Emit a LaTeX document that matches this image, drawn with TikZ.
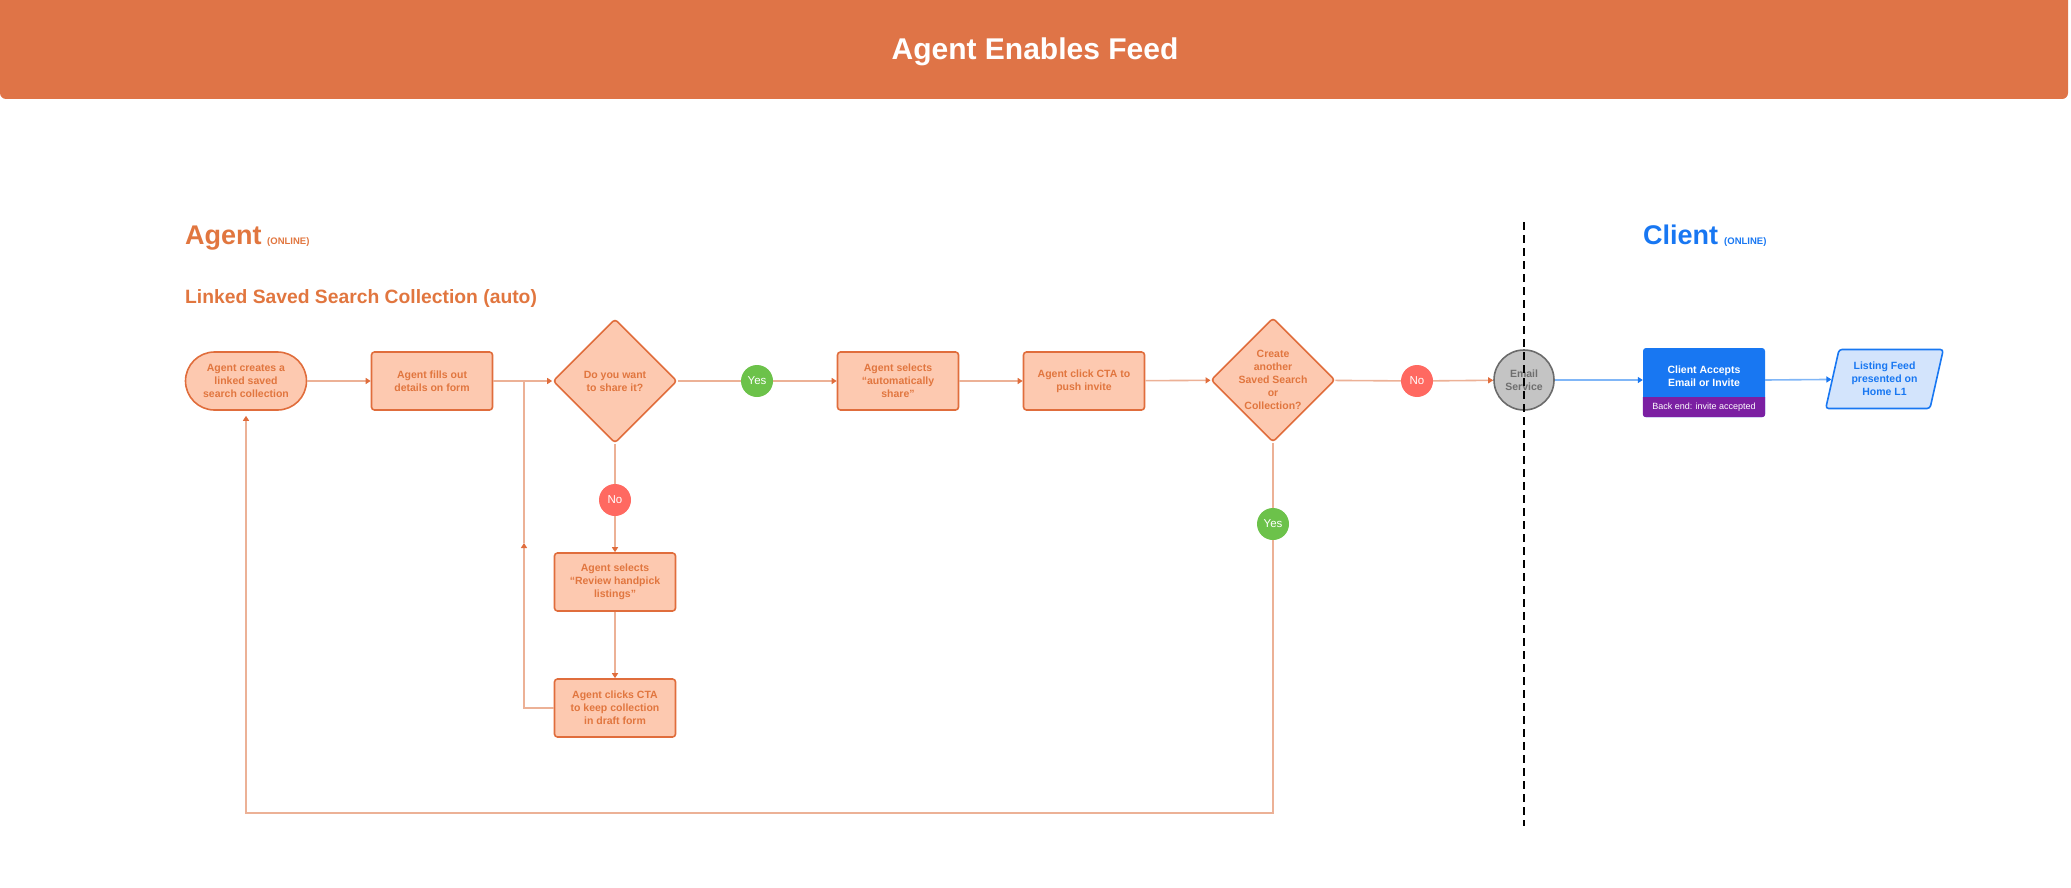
\documentclass[tikz,border=0pt]{standalone}
\usepackage{fontspec}
\setmainfont{Liberation Sans}
\usetikzlibrary{arrows.meta,shapes.geometric}
\definecolor{hdr}{HTML}{DF7447}
\definecolor{bord}{HTML}{E06D3C}
\definecolor{boxfill}{HTML}{FDC9B0}
\definecolor{txt}{HTML}{E1763F}
\definecolor{lnk}{HTML}{ECB196}
\definecolor{arr}{HTML}{E06D3C}
\definecolor{grn}{HTML}{6CC24A}
\definecolor{rd}{HTML}{FF6961}
\definecolor{blu}{HTML}{1877F2}
\definecolor{lblu}{HTML}{80B6F7}
\definecolor{purp}{HTML}{7B1FA2}
\definecolor{pfill}{HTML}{D3E4FC}
\definecolor{gfill}{HTML}{C4C4C4}
\definecolor{gbord}{HTML}{6B6B6B}
\definecolor{gtxt}{HTML}{6E6E6E}
\newcommand{\bxfont}{\fontsize{10.5}{13}\selectfont\bfseries}
\tikzset{
  stepbox/.style={draw=bord, fill=boxfill, line width=1.6pt, rounded corners=3pt,
    minimum width=121pt, minimum height=58pt, inner sep=0pt, align=center,
    text=txt, font=\bxfont},
  termbox/.style={stepbox, rounded corners=29pt},
  decbox/.style={diamond, draw=bord, fill=boxfill, line width=1.6pt, rounded corners=3pt,
    aspect=1, minimum width=124pt, minimum height=124pt, inner sep=0pt},
  dectext/.style={align=center, text=txt, font=\bxfont, inner sep=0pt},
  yesc/.style={circle, fill=grn, minimum size=32pt, inner sep=0pt, text=white,
    font=\fontsize{11.5}{13}\selectfont},
  noc/.style={yesc, fill=rd},
  conn/.style={draw=lnk, line width=1.6pt},
  bconn/.style={draw=lblu, line width=1.6pt},
  ar/.style={-{Triangle[length=5pt,width=6pt,color=arr]}},
  bar/.style={-{Triangle[length=5pt,width=6pt,color=blu]}},
}
\begin{document}
\begin{tikzpicture}[x=1pt,y=-1pt]
\useasboundingbox (0,0) rectangle (2071,888);
% header
\fill[hdr, rounded corners=6pt] (0,-8) rectangle (2068,99);
\node[anchor=base, text=white, font=\fontsize{30}{34}\selectfont\bfseries] (title) at (1035,60) {Agent Enables Feed};
% lane titles
\node[anchor=base west, inner sep=0pt, text=txt, font=\fontsize{27}{30}\selectfont\bfseries] (agent) at (185,244) {Agent};
\node[anchor=base west, inner sep=0pt, text=txt, font=\fontsize{9.5}{11}\selectfont\bfseries] (agon) at (267,244) {(ONLINE)};
\node[anchor=base west, inner sep=0pt, text=txt, font=\fontsize{19.3}{22}\selectfont\bfseries] (linked) at (185,303) {Linked Saved Search Collection (auto)};
\node[anchor=base west, inner sep=0pt, text=blu, font=\fontsize{27}{30}\selectfont\bfseries] (client) at (1643,244) {Client};
\node[anchor=base west, inner sep=0pt, text=blu, font=\fontsize{9.5}{11}\selectfont\bfseries] (clon) at (1724,244) {(ONLINE)};
% nodes
\node[termbox] (start) at (246,381) {Agent creates a\\linked saved\\search collection};
\node[stepbox] (fills) at (432,381) {Agent fills out\\details on form};
\node[decbox, label={[dectext]center:{Do you want\\to share it?}}] (d1) at (615,381) {};
\node[yesc] (yes1) at (757,381) {Yes};
\node[stepbox] (auto) at (898,381) {Agent selects\\“automatically\\share”};
\node[stepbox] (push) at (1084,381) {Agent click CTA to\\push invite};
\node[decbox, label={[dectext]center:{Create\\another\\Saved Search\\or\\Collection?}}] (d2) at (1273,380) {};
\node[noc] (no2) at (1417,381) {No};
\node[circle, draw=gbord, fill=gfill, line width=1.6pt, minimum size=60pt, inner sep=0pt,
  align=center, text=gtxt, font=\bxfont] (em) at (1524,380) {Email\\Service};
\node[draw=none, fill=blu, rounded corners=3pt, minimum width=122pt, minimum height=69pt, inner sep=0pt] (cl) at (1704,382.5) {};
\fill[purp] ([yshift=20pt]cl.south west) {[rounded corners=3pt] -- (cl.south west) -- (cl.south east)} -- ([yshift=20pt]cl.south east) -- cycle;
\node[align=center, text=white, font=\bxfont, inner sep=0pt] (clt) at (1704,376.5) {Client Accepts\\Email or Invite};
\node[text=white, font=\fontsize{9}{11}\selectfont, inner sep=0pt] (be) at ([yshift=10pt]cl.south) {Back end: invite accepted};
\node[trapezium, trapezium left angle=74, trapezium right angle=106, trapezium stretches=true,
  minimum width=118pt, minimum height=59pt, draw=blu, fill=pfill, line width=1.6pt,
  rounded corners=3pt, inner sep=0pt, align=center, text=blu, font=\bxfont] (para) at (1884.5,379) {Listing Feed\\presented on\\Home L1};
\node[noc] (no1) at (615,500) {No};
\node[stepbox] (rev) at (615,582) {Agent selects\\“Review handpick\\listings”};
\node[stepbox] (draft) at (615,708) {Agent clicks CTA\\to keep collection\\in draft form};
\node[yesc] (yes2) at (1273,524) {Yes};
\coordinate (rj) at (524,381);
\coordinate (rm) at (524,543);
\coordinate (lb) at (1273,813);
\coordinate (dtop) at (1524,222);
\coordinate (dbot) at (1524,826);
% connectors
\draw[conn, ar] (start) -- (fills);
\draw[conn, ar] (fills) -- (d1);
\draw[conn] (d1) -- (yes1);
\draw[conn, ar] (yes1) -- (auto);
\draw[conn, ar] (auto) -- (push);
\draw[conn, ar] (push) -- (d2);
\draw[conn] (d2) -- (no2);
\draw[conn, ar] (no2) -- (em);
\draw[bconn, bar] (em.east) -- (em.east -| cl.west);
\draw[bconn, bar] (cl.east |- em) -- (para);
\draw[conn] (d1) -- (no1);
\draw[conn, ar] (no1) -- (rev);
\draw[conn, ar] (rev) -- (draft);
\draw[conn, ar] (draft.west) -| (rm);
\draw[conn] (rm) -- (rj);
\draw[conn] (d2) -- (yes2);
\draw[conn, ar, shorten >=5pt] (yes2) -- (lb) -| (start);
% lane divider
\draw[black, line width=1.3pt, dash pattern=on 8pt off 5pt] (dtop) -- (dbot);
\end{tikzpicture}
\end{document}
